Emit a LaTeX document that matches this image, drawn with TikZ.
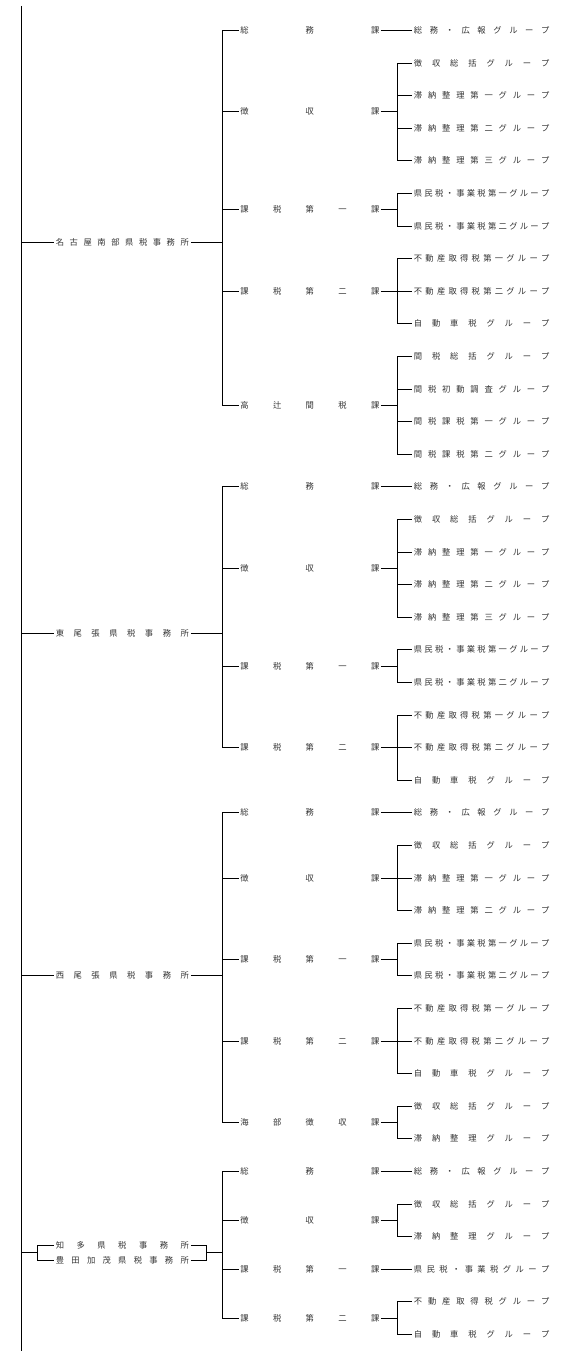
\documentclass[tikz,border=0pt]{standalone}
\usepackage{fontspec}
\newfontfamily\jpfont{Noto Sans CJK JP}
\usepackage{tikz}
\usetikzlibrary{calc,positioning}
\newcommand\kintou[2]{\makebox[#1]{\kintouloop#2\relax}}
\def\kintouloop#1{\ifx#1\relax\unskip\else#1\hfill\expandafter\kintouloop\fi}
\newcommand\offtext[1]{\kintou{133pt}{#1}}
\newcommand\sectext[1]{\kintou{139pt}{#1}}
\newcommand\grptext[1]{\kintou{135.5pt}{#1}}
\newcommand\rowy[1]{30.3+32.6*#1}

\begin{document}
\begin{tikzpicture}[
  x=1pt, y=-1pt,
  line width=0.75pt,
  txt/.style={
    anchor=west,
    inner ysep=1pt,
    text=black!80,
    font=\jpfont\fontsize{8.3}{10}\selectfont
    },
  officebox/.style={txt, inner xsep=1.5pt},
  secbox/.style={txt, inner xsep=1pt},
  grpbox/.style={txt, inner xsep=1.5pt}
]
\useasboundingbox (0,0) rectangle (567,1351);
\coordinate (trunk) at (21,6);
\coordinate (trunkend) at (21,1351);
\coordinate (obr) at (222,0);
\coordinate (gbr) at (397,0);
\coordinate (lbr) at (37,0);
\coordinate (rbr) at (206,0);
\draw (trunk) -- (trunkend);

\node [officebox] (o1) at (54,\rowy{6.5}) {\offtext{名古屋南部県税事務所}};
\node [secbox] (s11) at (239,\rowy{0}) {\sectext{総務課}};
\node [secbox] (s12) at (239,\rowy{2.5}) {\sectext{徴収課}};
\node [secbox] (s13) at (239,\rowy{5.5}) {\sectext{課税第一課}};
\node [secbox] (s14) at (239,\rowy{8}) {\sectext{課税第二課}};
\node [secbox] (s15) at (239,\rowy{11.5}) {\sectext{高辻間税課}};
\node [grpbox] (g111) at (412,\rowy{0}) {\grptext{総務・広報グループ}};
\node [grpbox] (g121) at (412,\rowy{1}) {\grptext{徴収総括グループ}};
\node [grpbox] (g122) at (412,\rowy{2}) {\grptext{滞納整理第一グループ}};
\node [grpbox] (g123) at (412,\rowy{3}) {\grptext{滞納整理第二グループ}};
\node [grpbox] (g124) at (412,\rowy{4}) {\grptext{滞納整理第三グループ}};
\node [grpbox] (g131) at (412,\rowy{5}) {\grptext{県民税・事業税第一グループ}};
\node [grpbox] (g132) at (412,\rowy{6}) {\grptext{県民税・事業税第二グループ}};
\node [grpbox] (g141) at (412,\rowy{7}) {\grptext{不動産取得税第一グループ}};
\node [grpbox] (g142) at (412,\rowy{8}) {\grptext{不動産取得税第二グループ}};
\node [grpbox] (g143) at (412,\rowy{9}) {\grptext{自動車税グループ}};
\node [grpbox] (g151) at (412,\rowy{10}) {\grptext{間税総括グループ}};
\node [grpbox] (g152) at (412,\rowy{11}) {\grptext{間税初動調査グループ}};
\node [grpbox] (g153) at (412,\rowy{12}) {\grptext{間税課税第一グループ}};
\node [grpbox] (g154) at (412,\rowy{13}) {\grptext{間税課税第二グループ}};

\node [officebox] (o2) at (54,\rowy{18.5}) {\offtext{東尾張県税事務所}};
\node [secbox] (s21) at (239,\rowy{14}) {\sectext{総務課}};
\node [secbox] (s22) at (239,\rowy{16.5}) {\sectext{徴収課}};
\node [secbox] (s23) at (239,\rowy{19.5}) {\sectext{課税第一課}};
\node [secbox] (s24) at (239,\rowy{22}) {\sectext{課税第二課}};
\node [grpbox] (g211) at (412,\rowy{14}) {\grptext{総務・広報グループ}};
\node [grpbox] (g221) at (412,\rowy{15}) {\grptext{徴収総括グループ}};
\node [grpbox] (g222) at (412,\rowy{16}) {\grptext{滞納整理第一グループ}};
\node [grpbox] (g223) at (412,\rowy{17}) {\grptext{滞納整理第二グループ}};
\node [grpbox] (g224) at (412,\rowy{18}) {\grptext{滞納整理第三グループ}};
\node [grpbox] (g231) at (412,\rowy{19}) {\grptext{県民税・事業税第一グループ}};
\node [grpbox] (g232) at (412,\rowy{20}) {\grptext{県民税・事業税第二グループ}};
\node [grpbox] (g241) at (412,\rowy{21}) {\grptext{不動産取得税第一グループ}};
\node [grpbox] (g242) at (412,\rowy{22}) {\grptext{不動産取得税第二グループ}};
\node [grpbox] (g243) at (412,\rowy{23}) {\grptext{自動車税グループ}};

\node [officebox] (o3) at (54,\rowy{29}) {\offtext{西尾張県税事務所}};
\node [secbox] (s31) at (239,\rowy{24}) {\sectext{総務課}};
\node [secbox] (s32) at (239,\rowy{26}) {\sectext{徴収課}};
\node [secbox] (s33) at (239,\rowy{28.5}) {\sectext{課税第一課}};
\node [secbox] (s34) at (239,\rowy{31}) {\sectext{課税第二課}};
\node [secbox] (s35) at (239,\rowy{33.5}) {\sectext{海部徴収課}};
\node [grpbox] (g311) at (412,\rowy{24}) {\grptext{総務・広報グループ}};
\node [grpbox] (g321) at (412,\rowy{25}) {\grptext{徴収総括グループ}};
\node [grpbox] (g322) at (412,\rowy{26}) {\grptext{滞納整理第一グループ}};
\node [grpbox] (g323) at (412,\rowy{27}) {\grptext{滞納整理第二グループ}};
\node [grpbox] (g331) at (412,\rowy{28}) {\grptext{県民税・事業税第一グループ}};
\node [grpbox] (g332) at (412,\rowy{29}) {\grptext{県民税・事業税第二グループ}};
\node [grpbox] (g341) at (412,\rowy{30}) {\grptext{不動産取得税第一グループ}};
\node [grpbox] (g342) at (412,\rowy{31}) {\grptext{不動産取得税第二グループ}};
\node [grpbox] (g343) at (412,\rowy{32}) {\grptext{自動車税グループ}};
\node [grpbox] (g351) at (412,\rowy{33}) {\grptext{徴収総括グループ}};
\node [grpbox] (g352) at (412,\rowy{34}) {\grptext{滞納整理グループ}};

\coordinate (o4) at (21,\rowy{37.5});
\node [officebox] (o4a) at (54,\rowy{37.5}-7.8) {\offtext{知多県税事務所}};
\node [officebox] (o4b) at (54,\rowy{37.5}+7.8) {\offtext{豊田加茂県税事務所}};
\node [secbox] (s41) at (239,\rowy{35}) {\sectext{総務課}};
\node [secbox] (s42) at (239,\rowy{36.5}) {\sectext{徴収課}};
\node [secbox] (s43) at (239,\rowy{38}) {\sectext{課税第一課}};
\node [secbox] (s44) at (239,\rowy{39.5}) {\sectext{課税第二課}};
\node [grpbox] (g411) at (412,\rowy{35}) {\grptext{総務・広報グループ}};
\node [grpbox] (g421) at (412,\rowy{36}) {\grptext{徴収総括グループ}};
\node [grpbox] (g422) at (412,\rowy{37}) {\grptext{滞納整理グループ}};
\node [grpbox] (g431) at (412,\rowy{38}) {\grptext{県民税・事業税グループ}};
\node [grpbox] (g441) at (412,\rowy{39}) {\grptext{不動産取得税グループ}};
\node [grpbox] (g442) at (412,\rowy{40}) {\grptext{自動車税グループ}};

\draw (o1.west -| trunk) -- (o1.west);
\draw (o1.east) -- (o1.east -| obr);
\draw (o1.east -| obr) |- (s11.west);
\draw (o1.east -| obr) |- (s12.west);
\draw (o1.east -| obr) |- (s13.west);
\draw (o1.east -| obr) |- (s14.west);
\draw (o1.east -| obr) |- (s15.west);
\draw (s11.east) -- (g111.west);
\draw (s12.east) -- (s12.east -| gbr);
\draw (s12.east -| gbr) |- (g121.west);
\draw (s12.east -| gbr) |- (g122.west);
\draw (s12.east -| gbr) |- (g123.west);
\draw (s12.east -| gbr) |- (g124.west);
\draw (s13.east) -- (s13.east -| gbr);
\draw (s13.east -| gbr) |- (g131.west);
\draw (s13.east -| gbr) |- (g132.west);
\draw (s14.east) -- (s14.east -| gbr);
\draw (s14.east -| gbr) |- (g141.west);
\draw (s14.east -| gbr) |- (g142.west);
\draw (s14.east -| gbr) |- (g143.west);
\draw (s15.east) -- (s15.east -| gbr);
\draw (s15.east -| gbr) |- (g151.west);
\draw (s15.east -| gbr) |- (g152.west);
\draw (s15.east -| gbr) |- (g153.west);
\draw (s15.east -| gbr) |- (g154.west);

\draw (o2.west -| trunk) -- (o2.west);
\draw (o2.east) -- (o2.east -| obr);
\draw (o2.east -| obr) |- (s21.west);
\draw (o2.east -| obr) |- (s22.west);
\draw (o2.east -| obr) |- (s23.west);
\draw (o2.east -| obr) |- (s24.west);
\draw (s21.east) -- (g211.west);
\draw (s22.east) -- (s22.east -| gbr);
\draw (s22.east -| gbr) |- (g221.west);
\draw (s22.east -| gbr) |- (g222.west);
\draw (s22.east -| gbr) |- (g223.west);
\draw (s22.east -| gbr) |- (g224.west);
\draw (s23.east) -- (s23.east -| gbr);
\draw (s23.east -| gbr) |- (g231.west);
\draw (s23.east -| gbr) |- (g232.west);
\draw (s24.east) -- (s24.east -| gbr);
\draw (s24.east -| gbr) |- (g241.west);
\draw (s24.east -| gbr) |- (g242.west);
\draw (s24.east -| gbr) |- (g243.west);

\draw (o3.west -| trunk) -- (o3.west);
\draw (o3.east) -- (o3.east -| obr);
\draw (o3.east -| obr) |- (s31.west);
\draw (o3.east -| obr) |- (s32.west);
\draw (o3.east -| obr) |- (s33.west);
\draw (o3.east -| obr) |- (s34.west);
\draw (o3.east -| obr) |- (s35.west);
\draw (s31.east) -- (g311.west);
\draw (s32.east) -- (s32.east -| gbr);
\draw (s32.east -| gbr) |- (g321.west);
\draw (s32.east -| gbr) |- (g322.west);
\draw (s32.east -| gbr) |- (g323.west);
\draw (s33.east) -- (s33.east -| gbr);
\draw (s33.east -| gbr) |- (g331.west);
\draw (s33.east -| gbr) |- (g332.west);
\draw (s34.east) -- (s34.east -| gbr);
\draw (s34.east -| gbr) |- (g341.west);
\draw (s34.east -| gbr) |- (g342.west);
\draw (s34.east -| gbr) |- (g343.west);
\draw (s35.east) -- (s35.east -| gbr);
\draw (s35.east -| gbr) |- (g351.west);
\draw (s35.east -| gbr) |- (g352.west);

\draw (o4) -- (o4 -| lbr);
\draw (o4 -| lbr) |- (o4a.west);
\draw (o4 -| lbr) |- (o4b.west);
\draw (o4a.east) -| (o4 -| rbr);
\draw (o4b.east) -| (o4 -| rbr);
\draw (o4 -| rbr) -- (o4 -| obr);
\draw (o4 -| obr) |- (s41.west);
\draw (o4 -| obr) |- (s42.west);
\draw (o4 -| obr) |- (s43.west);
\draw (o4 -| obr) |- (s44.west);
\draw (s41.east) -- (g411.west);
\draw (s42.east) -- (s42.east -| gbr);
\draw (s42.east -| gbr) |- (g421.west);
\draw (s42.east -| gbr) |- (g422.west);
\draw (s43.east) -- (g431.west);
\draw (s44.east) -- (s44.east -| gbr);
\draw (s44.east -| gbr) |- (g441.west);
\draw (s44.east -| gbr) |- (g442.west);

\end{tikzpicture}
\end{document}
